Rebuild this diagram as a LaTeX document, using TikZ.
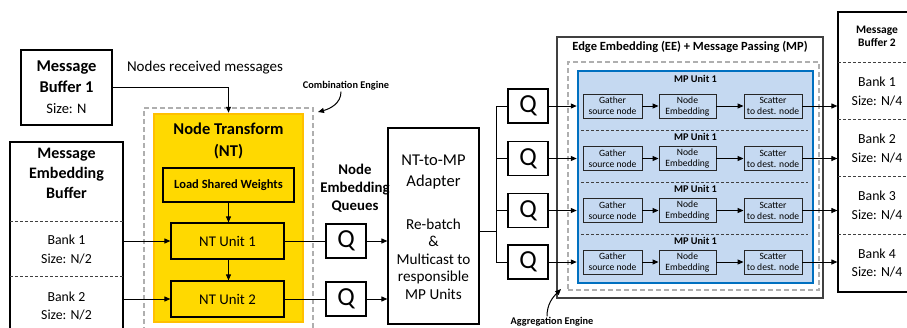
\documentclass[tikz,border=0pt]{standalone}
\usepackage{fontspec}
\setmainfont{Carlito}
\usetikzlibrary{arrows.meta}
\definecolor{ntfill}{RGB}{255,217,0}
\definecolor{ntborder}{RGB}{255,192,0}
\definecolor{mpfill}{RGB}{197,217,241}
\definecolor{mpborder}{RGB}{0,112,192}
\definecolor{dashgray}{RGB}{175,175,175}
\definecolor{outergray}{RGB}{64,64,64}
\newcommand\myfs[2]{\fontsize{#1}{#2}\selectfont}
\tikzset{
  box/.style={draw=black, line width=1.2pt, inner sep=0pt, align=center},
  engine/.style={draw=dashgray, line width=1.1pt, dash pattern=on 5pt off 3pt, inner sep=0pt},
  ntbox/.style={draw=ntborder, fill=ntfill, line width=2.5pt, inner sep=0pt},
  mpbox/.style={draw=mpborder, fill=mpfill, line width=2.5pt, inner sep=0pt},
  rowbox/.style={draw=black!85, fill=mpfill, line width=0.9pt, inner sep=0pt, minimum height=24, align=center, font=\myfs{9.6}{11}},
  mplabel/.style={font=\myfs{10.3}{11}\bfseries, inner sep=0pt},
  bank/.style={inner sep=0pt, align=center, font=\myfs{13.8}{18.5}},
  qbox/.style={box, minimum width=40, minimum height=34, font=\myfs{26}{28}},
  sepline/.style={draw=black!75, line width=0.8pt, dash pattern=on 3pt off 2pt},
  conn/.style={draw=black, line width=1pt},
  arr/.style={conn, -{Triangle[length=6pt,width=5pt]}},
  curvarr/.style={draw=black, line width=1pt, -{Triangle[length=6pt,width=5pt]}},
  smalllabel/.style={font=\myfs{10.3}{11}\bfseries, inner sep=0pt},
}
\begin{document}
\begin{tikzpicture}[x=1pt,y=-1pt]
\useasboundingbox (0,0) rectangle (907,327);
\clip (0,0) rectangle (907,327);

% ---------- Message Buffer 1
\node[box, minimum width=91, minimum height=75, font=\myfs{16.5}{21}\bfseries] (mb1) at (66.5,87.5)
  {Message\\Buffer 1\\{\mdseries\myfs{14.5}{21}Size: N}};
\node[font=\myfs{15}{17}, inner sep=0pt] (nrm) at (205,68) {Nodes received messages};

% ---------- Combination engine
\node[engine, minimum width=169, minimum height=227] (cebox) at (228.5,221.5) {};
\node[ntbox, minimum width=149, minimum height=208] (nt) at (228.5,218) {};
\node[font=\myfs{16.5}{21.5}\bfseries, align=center, inner sep=0pt] (nttitle) at (228.5,141) {Node Transform\\(NT)};
\node[box, minimum width=131, minimum height=34, font=\myfs{12.5}{14}\bfseries] (lsw) at (228.5,185) {Load Shared Weights};
\node[box, minimum width=113, minimum height=36, font=\myfs{14.8}{17}] (ntu1) at (227.5,241) {NT Unit 1};
\node[box, minimum width=113, minimum height=36, font=\myfs{14.8}{17}] (ntu2) at (227.5,299) {NT Unit 2};
\draw[arr] (lsw.south) -- (lsw.south |- ntu1.north);
\draw[arr] (ntu1.south -| lsw.south) -- (ntu2.north -| lsw.south);
\draw[arr] (mb1.east) -| (nt.north);

\node[smalllabel] (celabel) at (346,86) {Combination Engine};
\coordinate (cetip) at (318,112);
\draw[curvarr] ([xshift=-5pt,yshift=-1pt]celabel.south) to[out=-90,in=15] (cetip);

% ---------- Message Embedding Buffer
\node[box, minimum width=113, minimum height=193] (meb) at (66.5,238.5) {};
\node[font=\myfs{16}{20}\bfseries, align=center, inner sep=0pt] (mebtitle) at (66.5,173) {Message\\Embedding\\Buffer};
\node[bank, minimum width=113, minimum height=55] (bank1) at (66.5,249.5) {Bank 1\\Size: N/2};
\node[bank, minimum width=113, minimum height=58] (bank2) at (66.5,306) {Bank 2\\Size: N/2};
\draw[sepline] (bank1.north west) -- (bank1.north east);
\draw[sepline] (bank2.north west) -- (bank2.north east);
\draw[arr] (meb.east |- ntu1.west) -- (ntu1.west);
\draw[arr] (meb.east |- ntu2.west) -- (ntu2.west);

% ---------- Node embedding queues
\node[font=\myfs{14.8}{18}\bfseries, align=center, inner sep=0pt] (neq) at (355,188) {Node\\Embedding\\Queues};
\node[qbox] (nq1) at (346,241) {Q};
\node[qbox] (nq2) at (346,299) {Q};
\draw[conn] (ntu1.east) -- (nq1.west);
\draw[conn] (ntu2.east) -- (nq2.west);

% ---------- Adapter
\node[box, minimum width=91, minimum height=196] (adapter) at (433.5,226) {};
\node[font=\myfs{16.5}{21}, align=center, inner sep=0pt] (adt1) at (433.5,172.5) {NT-to-MP\\Adapter};
\node[font=\myfs{15.2}{17.5}, align=center, inner sep=0pt] (adt2) at (433.5,259) {Re-batch\\\&\\Multicast to\\responsible\\MP Units};
\draw[arr] (nq1.east) -- (nq1.east -| adapter.west);
\draw[arr] (nq2.east) -- (nq2.east -| adapter.west);

% ---------- Right queues
\node[qbox] (mq1) at (528,106) {Q};
\node[qbox] (mq2) at (528,158.5) {Q};
\node[qbox] (mq3) at (528,210.5) {Q};
\node[qbox] (mq4) at (528,262) {Q};
\coordinate (split) at (496,231);
\draw[conn] (adapter.east |- split) -- (split);
\draw[conn] (mq1.west) -- (mq1.west -| split) -- (mq4.west -| split) -- (mq4.west);
\draw[conn] (mq2.west) -- (mq2.west -| split);
\draw[conn] (mq3.west) -- (mq3.west -| split);

% ---------- EE + MP
\node[draw=outergray, line width=1.8pt, inner sep=0pt, minimum width=266, minimum height=261] (ee) at (690,167.5) {};
\node[font=\myfs{12.5}{14}\bfseries, inner sep=0pt] (eetitle) at (690,47) {Edge Embedding (EE) + Message Passing (MP)};
\node[engine, minimum width=251, minimum height=228] (agg) at (693.5,176) {};
\node[mpbox, minimum width=235, minimum height=212] (mp) at (695.5,177) {};

\node[smalllabel] (aglabel) at (552,322) {Aggregation Engine};
\coordinate (agtip) at (561,289);
\draw[curvarr] ([xshift=-5pt,yshift=1pt]aglabel.north) to[out=90,in=225] (agtip);

% ---------- Message Buffer 2
\node[box, minimum width=78, minimum height=280] (mb2) at (877,152) {};
\node[font=\myfs{11.5}{13}\bfseries, align=center, inner sep=0pt] (mb2title) at (877,36) {Message\\Buffer 2};
\foreach \i/\y in {1/91.5,2/148.5,3/205.5,4/263}{
  \node[bank, minimum width=78, minimum height=57] (mbank\i) at (877,\y) {Bank \i\\Size: N/4};
  \draw[sepline] (mbank\i.north west) -- (mbank\i.north east);
}

% ---------- MP rows
\foreach \y in {130,182.5,234}{
  \draw[sepline] (581,\y) -- (808,\y);
}
\foreach \i/\y/\ly in {1/106/79,2/158.5/136.5,3/210.5/189,4/262/240.5}{
  \node[mplabel] (mpl\i) at (695.5,\ly) {MP Unit 1};
  \node[rowbox, minimum width=59] (g\i) at (612.5,\y) {Gather\\source node};
  \node[rowbox, minimum width=57] (e\i) at (687.5,\y) {Node\\Embedding};
  \node[rowbox, minimum width=58] (s\i) at (773,\y) {Scatter\\to dest. node};
  \draw[arr] (g\i) -- (e\i);
  \draw[arr] (e\i) -- (s\i);
  \draw[arr] (s\i.east) -- (s\i.east -| mb2.west);
  \draw[arr] (mq\i.east) -- (mq\i.east -| mp.west);
}
\end{tikzpicture}
\end{document}
